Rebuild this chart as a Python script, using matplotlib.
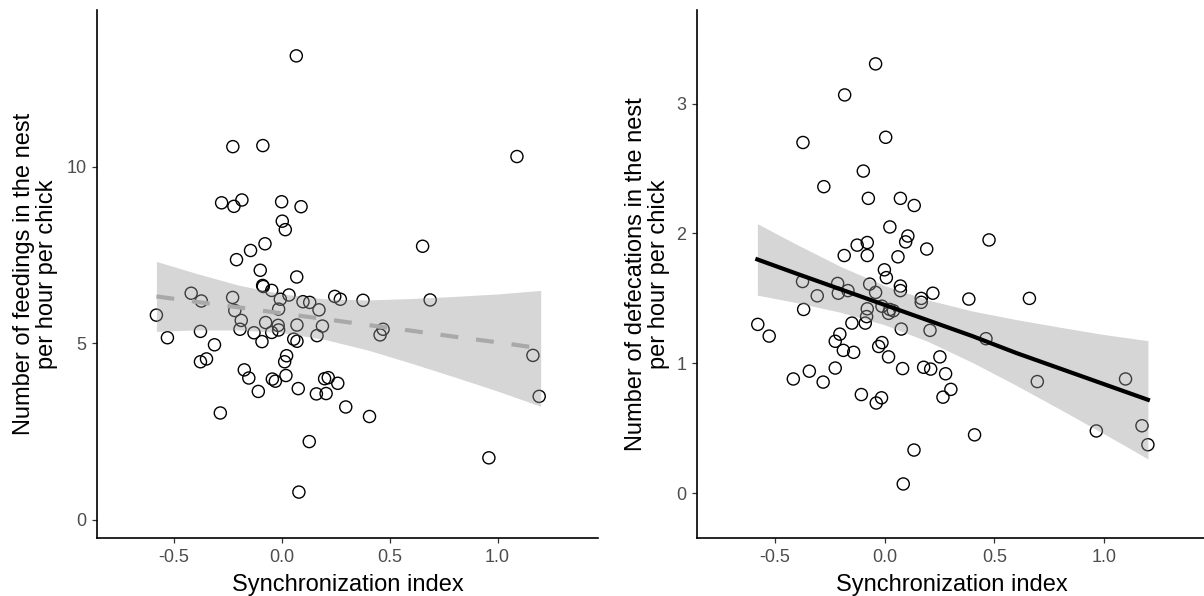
import matplotlib
matplotlib.use("Agg")
import matplotlib.pyplot as plt

plt.rcParams['font.family'] = ['Liberation Sans', 'DejaVu Sans']

# Left panel: feedings per hour per chick vs synchronization index.
sync_feed = [0.068, -0.226, -0.087, 1.09, -0.278, -0.221, -0.184, 0.0, 0.090, 0.003,
             0.017, -0.077, -0.144, -0.209, 0.653, -0.099, 0.070, -0.088, -0.085, -0.046,
             -0.419, -0.372, -0.227, 0.034, -0.006, 0.099, 0.130, 0.173, 0.246, 0.272,
             0.377, 0.688, -0.580, -0.217, -0.187, -0.014, -0.074, -0.016, -0.014, 0.071,
             0.189, -0.529, -0.376, -0.193, -0.128, -0.046, -0.091, 0.056, 0.071, 0.164,
             0.470, 0.456, -0.311, 0.023, 0.014, -0.376, -0.348, 1.164, -0.173, -0.152,
             -0.043, -0.029, 0.020, 0.199, 0.216, 0.260, -0.108, 0.077, 0.161, 0.206,
             1.193, 0.297, -0.284, 0.407, 0.128, 0.960, 0.080]
feedings = [13.14, 10.57, 10.60, 10.29, 8.98, 8.88, 9.06, 9.01, 8.87, 8.46,
            8.22, 7.82, 7.63, 7.37, 7.75, 7.07, 6.88, 6.64, 6.61, 6.50,
            6.42, 6.20, 6.30, 6.37, 6.25, 6.18, 6.16, 5.95, 6.33, 6.25,
            6.22, 6.23, 5.80, 5.93, 5.65, 5.97, 5.59, 5.51, 5.38, 5.52,
            5.49, 5.16, 5.34, 5.40, 5.30, 5.31, 5.05, 5.12, 5.06, 5.22,
            5.40, 5.24, 4.96, 4.65, 4.48, 4.48, 4.56, 4.66, 4.25, 4.02,
            3.99, 3.93, 4.09, 4.00, 4.03, 3.87, 3.64, 3.72, 3.57, 3.58,
            3.50, 3.20, 3.03, 2.93, 2.22, 1.76, 0.79]

# Right panel: defecations per hour per chick vs synchronization index.
sync_def = [-0.041, -0.182, -0.372, 0.005, -0.097, -0.277, -0.074, 0.072, 0.135, 0.024,
            0.106, 0.096, 0.476, -0.125, -0.079, 0.192, -0.184, -0.079, 0.061, -0.001,
            0.008, 0.072, 0.072, -0.374, -0.214, -0.167, -0.211, -0.068, -0.041, -0.307,
            0.220, 0.167, 0.167, 0.384, 0.660, -0.369, -0.578, -0.526, -0.079, -0.082,
            -0.088, -0.149, -0.012, 0.024, 0.040, 0.018, 0.076, 0.207, 0.462, -0.204,
            -0.225, -0.188, -0.141, -0.012, -0.027, 0.018, 0.252, -0.225, 0.082, 0.178,
            0.210, 0.278, -0.343, -0.416, -0.280, 0.696, 1.098, 0.302, -0.106, -0.014,
            -0.038, 0.266, 1.173, 0.965, 0.410, 1.200, 0.134, 0.085]
defecations = [3.305, 3.066, 2.70, 2.74, 2.48, 2.36, 2.27, 2.27, 2.215, 2.05,
               1.98, 1.935, 1.95, 1.91, 1.93, 1.88, 1.83, 1.83, 1.82, 1.72,
               1.66, 1.595, 1.56, 1.63, 1.615, 1.56, 1.54, 1.61, 1.546, 1.52,
               1.54, 1.50, 1.47, 1.495, 1.50, 1.415, 1.30, 1.21, 1.42, 1.36,
               1.31, 1.31, 1.44, 1.415, 1.405, 1.385, 1.264, 1.254, 1.19, 1.225,
               1.17, 1.10, 1.085, 1.16, 1.13, 1.05, 1.05, 0.964, 0.96, 0.97,
               0.956, 0.92, 0.94, 0.88, 0.856, 0.86, 0.88, 0.80, 0.76, 0.735,
               0.695, 0.74, 0.52, 0.48, 0.45, 0.374, 0.333, 0.072]

# Fitted lines and confidence bands.
band_x = [-0.58, -0.4, -0.2, 0.0, 0.2, 0.4, 0.6, 0.8, 1.0, 1.2]
feed_fit = [6.33, 6.18, 6.02, 5.85, 5.69, 5.52, 5.36, 5.19, 5.03, 4.86]
feed_hi = [7.32, 6.99, 6.65, 6.40, 6.26, 6.23, 6.27, 6.33, 6.40, 6.50]
feed_lo = [5.34, 5.38, 5.38, 5.31, 5.11, 4.81, 4.44, 4.05, 3.65, 3.22]
def_fit = [1.80, 1.69, 1.57, 1.45, 1.33, 1.21, 1.08, 0.96, 0.84, 0.72]
def_hi = [2.075, 1.915, 1.745, 1.599, 1.487, 1.403, 1.337, 1.278, 1.222, 1.175]
def_lo = [1.525, 1.467, 1.393, 1.297, 1.167, 1.007, 0.831, 0.646, 0.458, 0.265]

x_ticks = [-0.5, 0.0, 0.5, 1.0]
x_tick_labels = ['-0.5', '0.0', '0.5', '1.0']

fig = plt.figure(figsize=(12.04, 5.96), dpi=100)
ax_left = fig.add_axes([0.0806, 0.0973, 0.416, 0.886])
ax_right = fig.add_axes([0.5789, 0.0973, 0.4228, 0.886])


def style_axes(ax):
    for side in ['top', 'right']:
        ax.spines[side].set_visible(False)
    for side in ['left', 'bottom']:
        ax.spines[side].set_linewidth(1.2)
        ax.spines[side].set_color('black')
        ax.spines[side].set_zorder(5)
    ax.tick_params(length=3.6, width=0.9, color='#333333', labelcolor='#4D4D4D',
                   labelsize=13, pad=4)
    ax.set_xlim(-0.855, 1.465)
    ax.set_xticks(x_ticks)
    ax.set_xticklabels(x_tick_labels)
    ax.set_xlabel('Synchronization index', fontsize=17)
    ax.xaxis.set_label_coords(0.5, -0.068)


# Left panel
ax_left.scatter(sync_feed, feedings, s=76, facecolors='none', edgecolors='black',
                linewidths=1.0, zorder=2)
ax_left.fill_between(band_x, feed_lo, feed_hi, color='#999999', alpha=0.4,
                     linewidth=0, zorder=3)
ax_left.plot(band_x, feed_fit, color='#A9A9A9', linewidth=3,
             linestyle=(0, (4.3, 4.3)), zorder=4)
style_axes(ax_left)
ax_left.set_ylim(-0.51, 14.44)
ax_left.set_yticks([0, 5, 10])
ax_left.set_ylabel('Number of feedings in the nest\nper hour per chick', fontsize=17,
                   linespacing=1.05)
ax_left.yaxis.set_label_coords(-0.078, 0.5)

# Right panel
ax_right.scatter(sync_def, defecations, s=76, facecolors='none', edgecolors='black',
                 linewidths=1.0, zorder=2)
ax_right.fill_between(band_x, def_lo, def_hi, color='#999999', alpha=0.4,
                      linewidth=0, zorder=3)
ax_right.plot(band_x, def_fit, color='black', linewidth=3, zorder=4)
style_axes(ax_right)
ax_right.set_ylim(-0.344, 3.72)
ax_right.set_yticks([0, 1, 2, 3])
ax_right.set_ylabel('Number of defecations in the nest\nper hour per chick', fontsize=17,
                    linespacing=1.05)
ax_right.yaxis.set_label_coords(-0.053, 0.5)

fig.savefig('out.png', dpi=100)
